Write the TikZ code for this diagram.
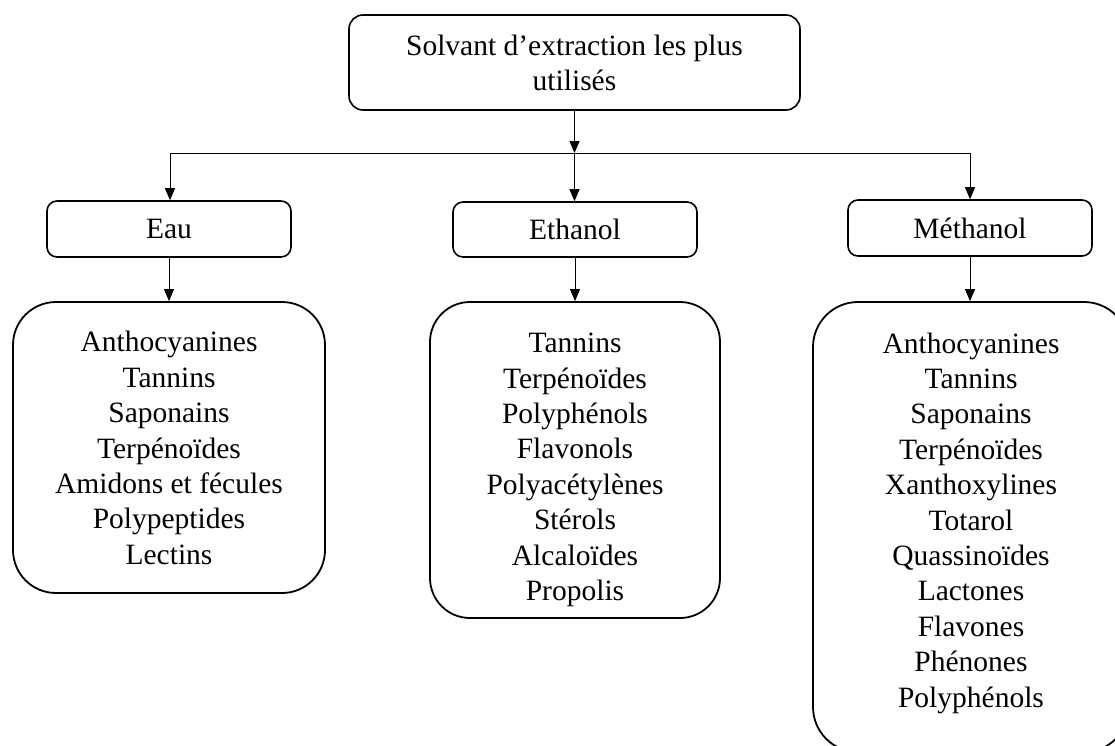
\documentclass[tikz,border=0pt]{standalone}
\usepackage{fontspec}
\setmainfont{Liberation Serif}
\usetikzlibrary{arrows.meta}
\begin{document}
\begin{tikzpicture}[x=1pt,y=-1pt,
  txt/.style={font=\fontsize{29.5}{35.4}\selectfont},
  box/.style={draw, line width=1.6pt, rounded corners=10pt, inner sep=0pt,
    minimum height=56pt, minimum width=244pt, txt},
  listbox/.style={draw, line width=1.8pt, rounded corners=43pt, inner sep=0pt},
  listtext/.style={align=center, inner sep=0pt, txt},
  conn/.style={line width=1pt, -{Triangle[width=10pt,length=12pt]}},
  plain/.style={line width=1pt}
]
\useasboundingbox (0,0) rectangle (1115,745);
\clip (0,0) rectangle (1115,745);

% top box
\node[box, minimum width=451pt, minimum height=95pt, rounded corners=14pt, align=center,
  font=\fontsize{29.5}{35}\selectfont] (top) at (574.5,62.5)
  {Solvant d’extraction les plus\\utilisés};

% solvent boxes
\node[box] (eau) at (169,229) {Eau};
\node[box, minimum height=55pt] (eth) at (575,229.5) {Ethanol};
\node[box] (met) at (970,228) {Méthanol};

% list boxes
\node[listbox, minimum width=312pt, minimum height=291pt] (eauL) at (169,447.5) {};
\node[listbox, minimum width=290pt, minimum height=316pt, rounded corners=40pt] (ethL) at (575,460) {};
\node[listbox, minimum width=316pt, minimum height=450pt, rounded corners=45pt] (metL) at (971,527) {};

% list texts
\node[listtext] (eauT) at (169,448) {Anthocyanines\\Tannins\\Saponains\\Terpénoïdes\\Amidons et fécules\\Polypeptides\\Lectins};
\node[listtext] (ethT) at (575,470) {Tannins\\Terpénoïdes\\Polyphénols\\Flavonols\\Polyacétylènes\\Stérols\\Alcaloïdes\\Propolis};
\node[listtext] (metT) at (971,523) {Anthocyanines\\Tannins\\Saponains\\Terpénoïdes\\Xanthoxylines\\Totarol\\Quassinoïdes\\Lactones\\Flavones\\Phénones\\Polyphénols};

% connectors
\coordinate (hl) at (170,153);
\coordinate (hm) at (574.5,153);
\coordinate (hr) at (970,153);
\draw[conn] (top.south) -- (hm);
\draw[plain] (hl) -- (hr);
\draw[conn] (hl) -- (hl |- eau.north);
\draw[conn] (hm) -- (hm |- eth.north);
\draw[conn] (hr) -- (hr |- met.north);
\draw[conn] (eau.south) -- (eauL.north);
\draw[conn] (eth.south) -- (ethL.north);
\draw[conn] (met.south) -- (met.south |- metL.north);
\end{tikzpicture}
\end{document}
